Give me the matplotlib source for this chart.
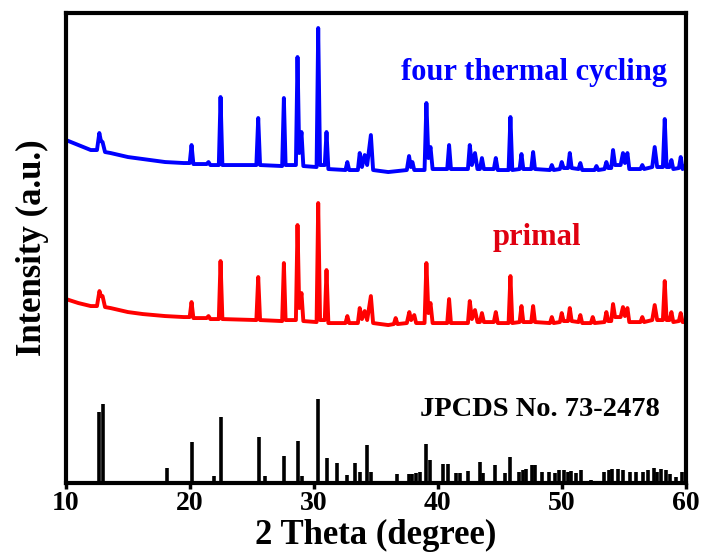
import numpy as np
import matplotlib.pyplot as plt

"""
XRD patterns: primal sample, after four thermal cycles, and the JPCDS reference
"""
# blue curve - after four thermal cycles (2theta, intensity a.u.)
cyc_x = [10.0, 11.0, 12.0, 12.5, 12.69, 12.82, 12.95, 13.15, 13.6, 15.0, 16.2, 18.0, 19.5,
         19.98, 20.13, 20.28, 21.35, 21.5, 21.65, 22.33, 22.47, 22.62, 25.36, 25.51, 25.66,
         27.44, 27.58, 27.72, 28.55, 28.68, 28.82, 29.0, 29.15, 30.22, 30.35, 30.5, 30.88,
         31.02, 31.17, 32.55, 32.7, 32.85, 33.55, 33.7, 33.88, 34.1, 34.3, 34.6, 34.78, 36.0,
         37.5, 37.68, 37.82, 37.95, 38.1, 38.93, 39.08, 39.24, 39.41, 39.58, 40.76, 40.91,
         41.06, 42.43, 42.58, 42.75, 43.0, 43.2, 43.4, 43.56, 43.72, 44.52, 44.68, 44.84,
         45.71, 45.86, 46.01, 46.6, 46.75, 46.9, 47.54, 47.69, 47.84, 49.05, 49.2, 49.35,
         49.85, 50.0, 50.15, 50.5, 50.65, 50.8, 51.35, 51.5, 51.65, 52.65, 52.8, 52.95, 53.45,
         53.6, 53.75, 53.99, 54.14, 54.3, 54.75, 54.94, 55.1, 55.3, 55.45, 56.35, 56.5, 56.65,
         57.3, 57.5, 57.7, 58.16, 58.31, 58.46, 58.7, 58.85, 59.0, 59.45, 59.6, 59.75, 60.0]
cyc_y = [343, 338, 333, 333, 350, 342, 341, 331, 330, 326, 324, 321, 320,
         320, 338, 319, 319, 321, 318, 318, 386, 318, 318, 365, 318,
         317, 385, 318, 318, 426, 330, 351, 317, 316, 455, 318, 318,
         351, 314, 313, 321, 313, 313, 330, 316, 328, 318, 348, 313, 311,
         313, 327, 316, 321, 313, 313, 380, 325, 336, 314, 314, 338,
         314, 314, 338, 318, 330, 314, 314, 325, 314, 314, 325, 313,
         313, 366, 313, 314, 329, 314, 314, 331, 314, 313, 318, 313,
         314, 321, 315, 315, 330, 315, 314, 320, 313, 313, 317, 313, 314,
         321, 315, 315, 333, 318, 318, 330, 320, 330, 314, 314, 318, 314,
         316, 336, 316, 316, 364, 316, 316, 323, 314, 315, 326, 314, 318]

# red curve - primal sample
pri_x = [10.0, 11.0, 12.0, 12.5, 12.7, 12.82, 12.95, 13.15, 13.6, 15.0, 16.2, 18.0, 19.5,
         19.98, 20.13, 20.28, 21.35, 21.5, 21.65, 22.33, 22.47, 22.62, 25.36, 25.51, 25.66,
         27.44, 27.58, 27.72, 28.55, 28.68, 28.82, 29.0, 29.15, 30.22, 30.35, 30.5, 30.88,
         31.02, 31.17, 32.55, 32.7, 32.85, 33.55, 33.7, 33.88, 34.1, 34.3, 34.6, 34.78, 36.0,
         36.45, 36.6, 36.75, 37.5, 37.7, 37.85, 38.1, 38.25, 38.93, 39.08, 39.24, 39.41, 39.58,
         40.76, 40.91, 41.06, 42.43, 42.58, 42.75, 43.0, 43.2, 43.4, 43.56, 43.72, 44.52, 44.68,
         44.84, 45.71, 45.86, 46.01, 46.6, 46.75, 46.9, 47.54, 47.69, 47.84, 49.05, 49.2, 49.35,
         49.85, 50.0, 50.15, 50.5, 50.65, 50.8, 51.35, 51.5, 51.65, 52.35, 52.5, 52.65, 53.45,
         53.6, 53.75, 53.99, 54.14, 54.3, 54.75, 54.94, 55.1, 55.3, 55.45, 56.35, 56.5, 56.65,
         57.3, 57.5, 57.7, 58.16, 58.31, 58.46, 58.7, 58.85, 59.0, 59.45, 59.6, 59.75, 60.0]
pri_y = [184, 180, 177, 177, 192, 187, 187, 176, 175, 171, 169, 167, 166,
         166, 181, 165, 165, 167, 164, 164, 222, 164, 163, 206, 163,
         162, 220, 163, 163, 258, 175, 190, 162, 161, 280, 163, 163,
         213, 160, 160, 167, 160, 160, 175, 164, 172, 163, 187, 160, 158,
         159, 165, 159, 160, 171, 163, 168, 160, 160, 220, 170, 180, 160,
         160, 184, 160, 160, 182, 164, 173, 161, 161, 170, 161, 161, 171,
         160, 160, 207, 160, 161, 177, 161, 161, 177, 161, 160, 166, 160,
         161, 170, 162, 162, 175, 162, 161, 168, 160, 160, 166, 160, 161,
         171, 162, 162, 179, 166, 166, 176, 167, 175, 161, 161, 166, 161,
         163, 178, 163, 163, 202, 163, 163, 171, 161, 162, 170, 161, 161]

# JPCDS No. 73-2478 stick pattern
ref_pos = [12.69, 12.96, 18.17, 20.19, 21.94, 22.53, 25.54, 26.05, 27.58, 28.68, 29.06,
           30.35, 31.02, 31.88, 32.69, 33.31, 33.76, 34.25, 34.65, 36.72, 37.66, 37.93,
           38.23, 38.6, 39.03, 39.41, 40.43, 40.83, 41.5, 41.77, 42.45, 43.39, 43.66, 44.6,
           45.4, 45.8, 46.56, 46.88, 47.15, 47.56, 47.82, 48.44, 48.98, 49.44, 49.78, 50.19,
           50.5, 50.78, 51.18, 51.59, 52.34, 53.39, 53.79, 54.09, 54.54, 54.95, 55.54, 56.02,
           56.56, 56.96, 57.42, 57.69, 58.04, 58.39, 58.71, 59.25, 59.73]
ref_int = [71, 79, 15, 41, 7, 66, 46, 7, 27, 42, 7,
           84, 25, 20, 8, 20, 11, 38, 11, 9, 9, 9,
           10, 11, 39, 23, 19, 19, 10, 10, 12, 21, 10, 18,
           10, 26, 11, 13, 14, 18, 18, 11, 11, 10, 13, 13,
           11, 12, 10, 13, 3, 11, 13, 14, 14, 13, 11, 11,
           11, 13, 15, 11, 14, 13, 9, 6, 11]

plt.rcParams['font.family'] = ['Liberation Serif', 'DejaVu Serif']
plt.rcParams['font.weight'] = 'bold'

fig = plt.figure(figsize=(7.05, 5.54), dpi=100)
ax = fig.add_axes([0.0936, 0.128, 0.879, 0.8485])

ax.plot(cyc_x, cyc_y, color='#0000ff', lw=2.8)
ax.plot(pri_x, pri_y, color='#ff0000', lw=2.8)
ax.vlines(ref_pos, 0, ref_int, color='black', lw=2.6)

ax.text(37.07, 403, 'four thermal cycling', color='#0000ff', fontsize=22, fontweight='bold')
ax.text(48.02, 238, 'primal', color='#e00010', fontsize=22, fontweight='bold', ha='center')
ax.text(38.55, 67, 'JPCDS No. 73-2478', color='black', fontsize=20.5, fontweight='bold')

ax.set_xlim(10, 60)
ax.set_ylim(0, 470)
ax.set_xticks([10, 20, 30, 40, 50, 60])
ax.set_yticks([])
ax.tick_params(axis='x', direction='out', length=4, width=2.5, labelsize=20, pad=2)
for lab in ax.get_xticklabels():
    lab.set_fontweight('bold')
for s in ax.spines.values():
    s.set_linewidth(3)

ax.set_xlabel('2 Theta (degree)', fontsize=25, fontweight='bold', labelpad=2)
ax.set_ylabel('Intensity (a.u.)', fontsize=25, fontweight='bold', labelpad=12)

fig.savefig('out.png', dpi=100)
